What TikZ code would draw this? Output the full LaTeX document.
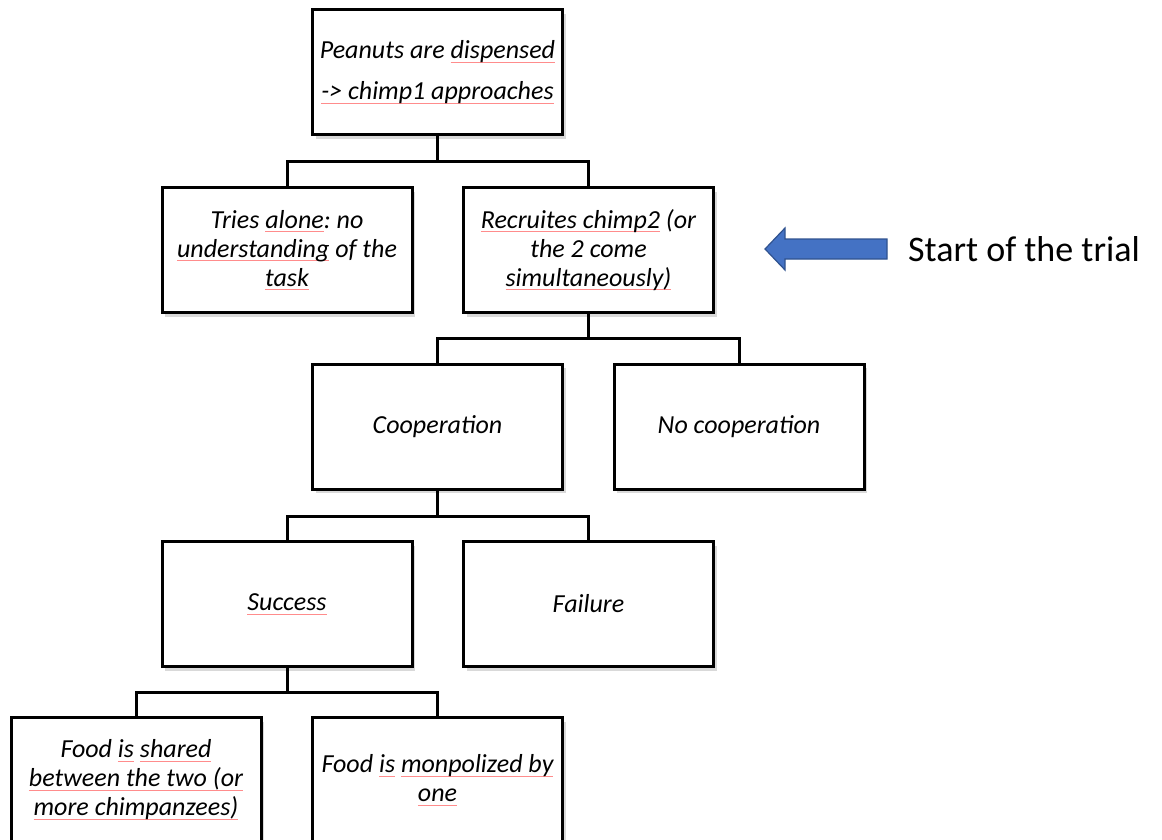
\documentclass[tikz,border=0pt]{standalone}
\usepackage{fontspec}
\setmainfont{Carlito}
\usetikzlibrary{shadows}
\frenchspacing
\newsavebox\spellbox
\newcommand\spell[1]{\sbox\spellbox{#1}\rlap{\color{red!45}\rule[-0.3ex]{\wd\spellbox}{0.7pt}}\usebox\spellbox}
\begin{document}
\begin{tikzpicture}[x=1pt,y=-1pt,
    box/.style={draw=black,line width=3pt,fill=white,minimum width=250pt,minimum height=125pt,
        inner sep=0pt,align=center,font=\itshape\fontsize{26}{29}\selectfont,
        drop shadow={opacity=0.3,shadow xshift=3pt,shadow yshift=-4pt}},
    conn/.style={draw=black,line width=3pt}]
        \useasboundingbox (0,0) rectangle (1162,840);
        \node[box] (peanuts) at (437.5,72.5) {Peanuts are \spell{dispensed}\\[12pt]\spell{-> chimp1 approaches}};
        \node[box] (alone) at (287,250) {Tries \spell{alone}: no\\\spell{understanding} of the\\\spell{task}};
        \node[box] (recruit) at (588.5,250) {\spell{Recruites chimp2} (or\\the 2 come\\\spell{simultaneously)}};
        \node[box] (coop) at (437.5,426.5) {Cooperation};
        \node[box] (nocoop) at (739,426.5) {No cooperation};
        \node[box] (success) at (287,604) {\spell{Success}};
        \node[box] (failure) at (588.5,604) {Failure};
        \node[box] (shared) at (136,780) {Food \spell{is} \spell{shared}\\\spell{between the two (or}\\\spell{more chimpanzees)}};
        \node[box] (monop) at (437.5,780) {Food \spell{is} \spell{monpolized by}\\\spell{one}};
        \coordinate (j1) at (437.5,162);
        \coordinate (j2) at (588.5,338);
        \coordinate (j3) at (437.5,516);
        \coordinate (j4) at (287,692);
        \draw [conn] (peanuts.south) -- (j1);
        \draw [conn] (alone.north) |- (j1) -| (recruit.north);
        \draw [conn] (recruit.south) -- (j2);
        \draw [conn] (coop.north) |- (j2) -| (nocoop.north);
        \draw [conn] (coop.south) -- (j3);
        \draw [conn] (success.north) |- (j3) -| (failure.north);
        \draw [conn] (success.south) -- (j4);
        \draw [conn] (shared.north) |- (j4) -| (monop.north);
        \filldraw [draw={rgb,255:red,47;green,82;blue,143},fill={rgb,255:red,68;green,114;blue,196},line width=1.2pt]
            (765,249) -- (785,228) -- (785,239) -- (887,239) -- (887,259) -- (785,259) -- (785,270) -- cycle;
        \node[anchor=west,inner sep=0pt,font=\fontsize{36}{40}\selectfont] (trial) at (908,249) {Start of the trial};
    \end{tikzpicture}
\end{document}
